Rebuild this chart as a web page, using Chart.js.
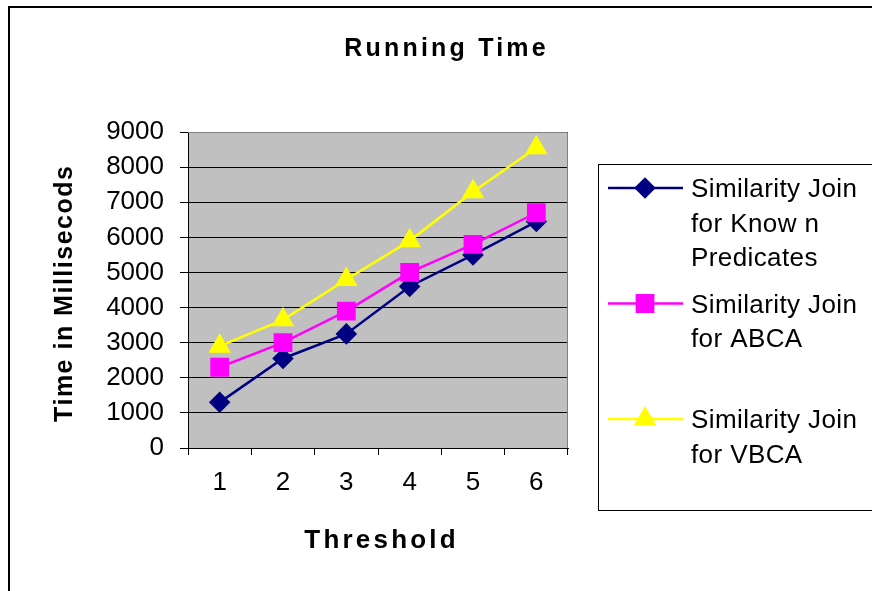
<!DOCTYPE html>
<html>
<head>
<meta charset="utf-8">
<title>Running Time</title>
<script src="https://cdn.jsdelivr.net/npm/chart.js@4/dist/chart.umd.min.js"></script>
<style>
  html, body { margin: 0; padding: 0; background: #fff; }
  canvas { display: block; }
</style>
</head>
<body>
<canvas id="myChart" width="872" height="591"></canvas>
<script>
// values
const thresholds = ['1', '2', '3', '4', '5', '6'];
const knownPredicates = [1300, 2550, 3250, 4600, 5500, 6450];
const abca = [2300, 3000, 3900, 5000, 5800, 6700];
const vbca = [2900, 3650, 4800, 5900, 7300, 8550];
const yMin = 0, yMax = 9000, yStep = 1000;

const chartTitle = 'Running Time';
const xTitle = 'Threshold';
const yTitle = 'Time in Millisecods';
const legendLines = [
    ['Similarity Join', 'for Know n', 'Predicates'],
    ['Similarity Join', 'for ABCA'],
    ['Similarity Join', 'for VBCA']
];

const FONT = 'Arial, "Liberation Sans", sans-serif';

// draws text with some letter spacing (old Excel look)
function spacedText(ctx, text, x, y, spacing, align) {
    ctx.save();
    ctx.letterSpacing = spacing + 'px';
    ctx.textAlign = align || 'center';
    if ((align || 'center') === 'center') x += spacing / 2;
    ctx.fillText(text, x, y);
    ctx.restore();
}

const excelLook = {
    id: 'excelLook',
    beforeDraw(chart) {
        const ctx = chart.ctx;
        const a = chart.chartArea;
        ctx.save();
        ctx.fillStyle = '#ffffff';
        ctx.fillRect(0, 0, chart.width, chart.height);
        ctx.fillStyle = '#c0c0c0';
        ctx.fillRect(a.left, a.top, a.right - a.left, a.bottom - a.top);
        ctx.restore();
    },
    afterDraw(chart) {
        const ctx = chart.ctx;
        const a = chart.chartArea;
        ctx.save();

        // plot area edge (top / right)
        ctx.strokeStyle = '#808080';
        ctx.lineWidth = 1;
        ctx.beginPath();
        ctx.moveTo(a.left, a.top + 0.5);
        ctx.lineTo(a.right - 0.5, a.top + 0.5);
        ctx.lineTo(a.right - 0.5, a.bottom);
        ctx.stroke();

        // outer chart border
        ctx.strokeStyle = '#000';
        ctx.lineWidth = 2;
        ctx.strokeRect(9, 7, 1000, 1000);

        // titles
        ctx.fillStyle = '#000';
        ctx.textBaseline = 'alphabetic';
        ctx.font = 'bold 25px ' + FONT;
        spacedText(ctx, chartTitle, 445, 56, 3.2);
        ctx.font = 'bold 26px ' + FONT;
        spacedText(ctx, xTitle, 380, 548, 3.2);
        ctx.save();
        ctx.translate(72, 294);
        ctx.rotate(-Math.PI / 2);
        ctx.font = 'bold 25px ' + FONT;
        spacedText(ctx, yTitle, 0, 0, 1.5);
        ctx.restore();

        // legend box
        ctx.strokeStyle = '#000';
        ctx.lineWidth = 1;
        ctx.strokeRect(598.5, 164.5, 400, 346);

        chart.data.datasets.forEach((ds, i) => {
            const ly = 188 + i * 115.5;
            ctx.strokeStyle = ds.borderColor;
            ctx.lineWidth = ds.borderWidth;
            ctx.beginPath();
            ctx.moveTo(608, ly);
            ctx.lineTo(683, ly);
            ctx.stroke();
            ctx.fillStyle = ds.pointBackgroundColor;
            ctx.strokeStyle = ds.pointBorderColor;
            Chart.helpers.drawPoint(ctx, {
                pointStyle: ds.pointStyle,
                radius: ds.pointRadius,
                rotation: 0,
                borderWidth: 1
            }, 645, ly);
            ctx.fillStyle = '#000';
            ctx.font = '26px ' + FONT;
            legendLines[i].forEach((line, j) => {
                spacedText(ctx, line, 691, ly + 9 + j * 34.5, 0.4, 'left');
            });
        });
        ctx.restore();
    }
};

const data = {
    labels: thresholds,
    datasets: [{
        label: legendLines[0].join(' '),
        data: knownPredicates,
        borderColor: '#000080',
        borderWidth: 2.5,
        pointStyle: 'rectRot',
        pointRadius: 9,
        pointBackgroundColor: '#000080',
        pointBorderColor: '#000080',
        order: 3
    }, {
        label: legendLines[1].join(' '),
        data: abca,
        borderColor: '#ff00ff',
        borderWidth: 2.5,
        pointStyle: 'rect',
        pointRadius: 11.5,
        pointBackgroundColor: '#ff00ff',
        pointBorderColor: '#ff00ff',
        order: 2
    }, {
        label: legendLines[2].join(' '),
        data: vbca,
        borderColor: '#ffff00',
        borderWidth: 2.5,
        pointStyle: 'triangle',
        pointRadius: 10.5,
        pointBackgroundColor: '#ffff00',
        pointBorderColor: '#ffff00',
        order: 1
    }]
};

new Chart(document.getElementById('myChart'), {
    type: 'line',
    data: data,
    plugins: [excelLook],
    options: {
        responsive: false,
        animation: false,
        devicePixelRatio: 1,
        layout: { padding: { left: 0, top: 132, right: 304, bottom: 0 } },
        elements: { line: { tension: 0 }, point: { hoverRadius: 9 } },
        plugins: {
            legend: { display: false },
            title: { display: false },
            tooltip: { enabled: false }
        },
        scales: {
            x: {
                offset: true,
                grid: {
                    offset: true,
                    drawOnChartArea: false,
                    drawTicks: true,
                    tickLength: 7,
                    color: '#000'
                },
                border: { color: '#000', width: 1 },
                ticks: {
                    color: '#000',
                    font: { family: FONT, size: 26 },
                    padding: 12,
                    maxRotation: 0
                },
                afterFit(scale) { scale.height = 143; }
            },
            y: {
                min: yMin,
                max: yMax,
                grid: {
                    color: '#000',
                    lineWidth: 1,
                    drawTicks: true,
                    tickLength: 8
                },
                border: { color: '#000', width: 1 },
                ticks: {
                    stepSize: yStep,
                    color: '#000',
                    font: { family: FONT, size: 26 },
                    padding: 16,
                    callback: (v) => String(v)
                },
                afterFit(scale) { scale.width = 188; }
            }
        }
    }
});
</script>
</body>
</html>
